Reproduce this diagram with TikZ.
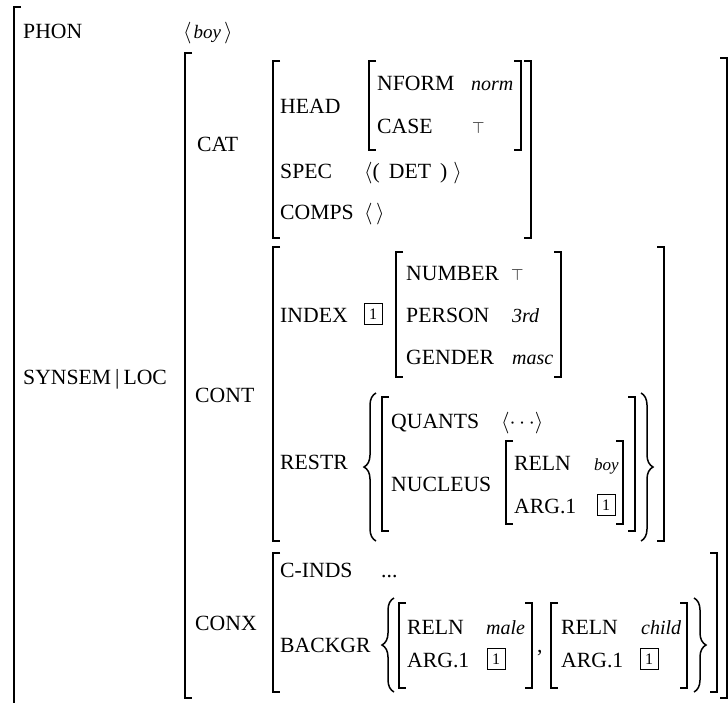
\RequirePackage{fix-cm}
\documentclass[tikz,border=0pt]{standalone}
\usepackage{fontspec}
\setmainfont{Liberation Serif}
\usetikzlibrary{decorations.pathreplacing}
\tikzset{
  lab/.style={anchor=base west, inner sep=0pt, font=\fontsize{21.7}{26}\selectfont},
  ival/.style={anchor=base west, inner sep=0pt, font=\fontsize{20}{24}\selectfont\itshape},
  tagbox/.style={draw, line width=0.9pt, inner sep=0pt, minimum width=18pt, minimum height=21pt, font=\fontsize{16}{19}\selectfont},
  topval/.style={anchor=base west, inner sep=0pt, font=\fontsize{16}{19}\selectfont},
  brk/.style={line width=1.7pt},
  brc/.style={line width=1.5pt, decorate, decoration={brace, amplitude=#1}},
  brc/.default=12pt
}
\newcommand\avmL[3]{\draw[brk] ({#1+7},{#2}) -- ({#1},{#2}) -- ({#1},{#3}) -- ({#1+7},{#3});}
\newcommand\avmR[3]{\draw[brk] ({#1-7},{#2}) -- ({#1},{#2}) -- ({#1},{#3}) -- ({#1-7},{#3});}
\begin{document}
\begin{tikzpicture}[x=1pt,y=-1pt]
\useasboundingbox (0,0) rectangle (728,702);
% outermost bracket
\draw[brk] (21,7) -- (14,7) -- (14,712);
\node[lab] (phon) at (23,38) {PHON};
\node[lab] (phonv) at (183,38) {$\langle$\hspace{2pt}{\fontsize{19}{22}\selectfont\itshape boy}\hspace{3pt}$\rangle$};
\node[lab] (synsem) at (23,384) {SYNSEM\hspace{4pt}|\hspace{4pt}LOC};
\avmL{185}{53}{698} \avmR{727}{58}{698}
% CAT
\node[lab] (cat) at (197,151) {CAT};
\avmL{273}{61}{238} \avmR{531}{61}{238}
\node[lab] (head) at (280,113) {HEAD};
\avmL{369}{61}{150} \avmR{521}{61}{150}
\node[lab] (nform) at (377,90) {NFORM};
\node[ival] (norm) at (471,90) {norm};
\node[lab] (case) at (377,133) {CASE};
\node[topval] (casev) at (472,133) {$\top$};
\node[lab] (spec) at (280,178) {SPEC};
\node[lab] (specv) at (364,178) {$\langle$(\hspace{9pt}DET\hspace{9pt})\hspace{6pt}$\rangle$};
\node[lab] (comps) at (280,219) {COMPS};
\node[lab] (compsv) at (364,219) {$\langle\,\rangle$};
% CONT
\node[lab] (cont) at (195,402) {CONT};
\avmL{273}{247}{541} \avmR{664}{247}{541}
\node[lab] (index) at (280,322) {INDEX};
\node[tagbox] (t1) at (373,314) {1};
\avmL{396}{252}{377} \avmR{561}{252}{377}
\node[lab] (number) at (406,280) {NUMBER};
\node[topval] (numv) at (511,280) {$\top$};
\node[lab] (person) at (406,322) {PERSON};
\node[ival] (personv) at (512,322) {3rd};
\node[lab] (gender) at (406,364) {GENDER};
\node[ival] (genderv) at (512,364) {masc};
\node[lab] (restr) at (280,469) {RESTR};
\draw[brc] (376,541) -- (376,393);
\avmL{382}{397}{531} \avmR{635}{397}{531}
\node[lab] (quants) at (391,428) {QUANTS};
\node[lab] (quantsv) at (501,428) {$\langle\cdots\rangle$};
\node[lab] (nucleus) at (391,491) {NUCLEUS};
\avmL{506}{441}{524} \avmR{623}{441}{524}
\node[lab] (reln1) at (514,470) {RELN};
\node[ival] (boy) at (594,470) {\fontsize{17}{20}\selectfont boy};
\node[lab] (arg1) at (514,513) {ARG.1};
\node[tagbox] (t2) at (606,505) {1};
\draw[brc] (641,393) -- (641,541);
% CONX
\node[lab] (conx) at (195,630) {CONX};
\avmL{273}{553}{692} \avmR{717}{553}{692}
\node[lab] (cinds) at (280,577) {C-INDS};
\node[lab] (cindsv) at (381,577) {...};
\node[lab] (backgr) at (280,652) {BACKGR};
\draw[brc] (394,692) -- (394,598);
\avmL{399}{603}{688} \avmR{532}{603}{688}
\node[lab] (reln2) at (407,634) {RELN};
\node[ival] (male) at (486,634) {male};
\node[lab] (arg2) at (407,667) {ARG.1};
\node[tagbox] (t3) at (496,659) {1};
\node[lab] (comma) at (537,652) {,};
\avmL{551}{603}{688} \avmR{687}{603}{688}
\node[lab] (reln3) at (561,634) {RELN};
\node[ival] (child) at (641,634) {child};
\node[lab] (arg3) at (561,667) {ARG.1};
\node[tagbox] (t4) at (649,659) {1};
\draw[brc] (694,598) -- (694,692);
\end{tikzpicture}
\end{document}
